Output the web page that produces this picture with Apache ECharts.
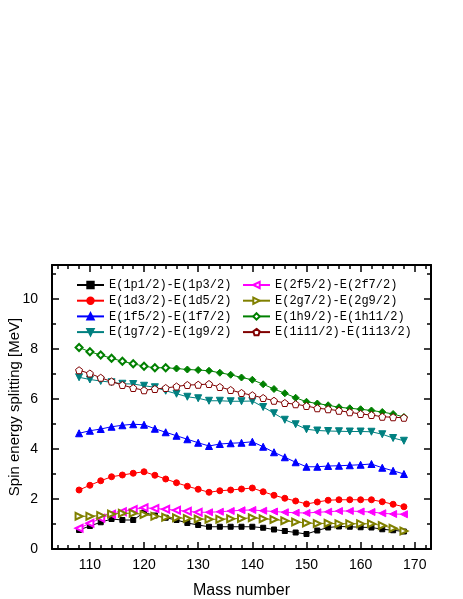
<!DOCTYPE html>
<html>
<head>
<meta charset="utf-8">
<script src="https://cdn.jsdelivr.net/npm/echarts@6/dist/echarts.min.js"></script>
<style>
  html, body { margin: 0; padding: 0; background: #fff; }
  #chart { width: 463px; height: 599px; }
</style>
</head>
<body>
<div id="chart"></div>
<script>
// mass numbers (x)
var massNumbers = [108, 110, 112, 114, 116, 118, 120, 122, 124, 126, 128, 130, 132, 134, 136, 138,
  140, 142, 144, 146, 148, 150, 152, 154, 156, 158, 160, 162, 164, 166, 168];

// spin-orbit splittings, MeV
var split1p = [0.76, 0.92, 1.07, 1.20, 1.16, 1.16, 1.46, 1.34, 1.25, 1.16, 1.04, 0.96, 0.89, 0.89, 0.89, 0.89,
  0.89, 0.85, 0.78, 0.72, 0.66, 0.60, 0.74, 0.86, 0.90, 0.89, 0.87, 0.86, 0.79, 0.75, 0.70];
var split1d = [2.36, 2.55, 2.73, 2.89, 2.96, 3.03, 3.09, 2.95, 2.80, 2.65, 2.51, 2.39, 2.27, 2.33, 2.36, 2.40,
  2.44, 2.29, 2.15, 2.03, 1.92, 1.80, 1.88, 1.95, 1.97, 1.97, 1.97, 1.97, 1.89, 1.79, 1.69];
var split1f = [4.63, 4.73, 4.80, 4.89, 4.95, 4.99, 4.97, 4.81, 4.67, 4.53, 4.39, 4.25, 4.12, 4.20, 4.23, 4.25,
  4.29, 4.09, 3.87, 3.67, 3.47, 3.29, 3.29, 3.32, 3.33, 3.35, 3.37, 3.40, 3.25, 3.13, 3.00];
var split1g = [6.87, 6.78, 6.72, 6.67, 6.61, 6.60, 6.53, 6.47, 6.33, 6.21, 6.09, 6.03, 5.93, 5.93, 5.91, 5.91,
  5.92, 5.68, 5.43, 5.17, 4.99, 4.79, 4.74, 4.72, 4.71, 4.70, 4.70, 4.69, 4.59, 4.44, 4.33];
var split2f = [0.83, 1.03, 1.23, 1.39, 1.49, 1.58, 1.65, 1.62, 1.59, 1.55, 1.51, 1.47, 1.47, 1.49, 1.52, 1.55,
  1.56, 1.53, 1.50, 1.47, 1.45, 1.44, 1.47, 1.49, 1.52, 1.52, 1.50, 1.48, 1.43, 1.40, 1.39];
var split2g = [1.31, 1.31, 1.34, 1.40, 1.43, 1.43, 1.38, 1.31, 1.27, 1.25, 1.22, 1.20, 1.19, 1.19, 1.21, 1.22,
  1.25, 1.21, 1.18, 1.13, 1.08, 1.04, 1.02, 1.03, 1.01, 1.01, 1.01, 1.01, 0.94, 0.83, 0.72];
var split1h = [8.06, 7.89, 7.76, 7.63, 7.51, 7.41, 7.31, 7.25, 7.25, 7.22, 7.18, 7.16, 7.13, 7.05, 6.97, 6.86,
  6.77, 6.59, 6.40, 6.23, 6.05, 5.89, 5.82, 5.75, 5.67, 5.63, 5.59, 5.54, 5.48, 5.40, 5.28];
var split1i = [7.15, 7.02, 6.85, 6.70, 6.56, 6.44, 6.35, 6.40, 6.44, 6.50, 6.56, 6.57, 6.60, 6.48, 6.36, 6.24,
  6.15, 6.04, 5.93, 5.84, 5.79, 5.72, 5.63, 5.59, 5.53, 5.47, 5.40, 5.36, 5.29, 5.27, 5.25];

var seriesNames = ['E(1p1/2)-E(1p3/2)', 'E(1d3/2)-E(1d5/2)', 'E(1f5/2)-E(1f7/2)', 'E(1g7/2)-E(1g9/2)',
  'E(2f5/2)-E(2f7/2)', 'E(2g7/2)-E(2g9/2)', 'E(1h9/2)-E(1h11/2)', 'E(1i11/2)-E(1i13/2)'];

// tick positions
var xMajorTicks = [110, 120, 130, 140, 150, 160, 170];
var xMinorTicks = [104, 106, 108, 112, 114, 116, 118, 122, 124, 126, 128, 132, 134, 136, 138,
  142, 144, 146, 148, 152, 154, 156, 158, 162, 164, 166, 168, 172];
var yMajorTicks = [0, 2, 4, 6, 8, 10];
var yMinorTicks = [1, 3, 5, 7, 9, 11];

var X_MIN = 103, X_MAX = 173, Y_MIN = 0, Y_MAX = 11.36;
var pentagon = 'path://M0,-1L0.951,-0.309L0.588,0.809L-0.588,0.809L-0.951,-0.309Z';

function pairs(ys, filledFrom, filledSymbol) {
  return massNumbers.map(function (a, i) {
    var item = { value: [a, ys[i]] };
    if (filledFrom != null && a >= filledFrom) item.symbol = filledSymbol;
    return item;
  });
}

function lineSeries(name, ys, color, symbol, size, rotate, filledFrom, filledSymbol) {
  return {
    name: name,
    type: 'line',
    data: pairs(ys, filledFrom, filledSymbol),
    symbol: symbol,
    symbolSize: size,
    symbolRotate: rotate || 0,
    showAllSymbol: true,
    lineStyle: { color: color, width: 1 },
    itemStyle: { color: color, borderColor: color, borderWidth: 1 },
    emphasis: { disabled: true },
    z: 3
  };
}

var axisColor = '#000';
function xAxisDef(position, ticks, len, withLine, withLabel) {
  return {
    type: 'value', position: position, min: X_MIN, max: X_MAX,
    axisLine: { show: withLine, onZero: false, lineStyle: { color: axisColor, width: 2 } },
    axisTick: { show: true, inside: true, length: len, customValues: ticks, lineStyle: { color: axisColor, width: 1.5 } },
    axisLabel: withLabel ? { show: true, customValues: ticks, margin: 9, color: '#000', fontSize: 14, fontFamily: 'Liberation Sans' } : { show: false },
    splitLine: { show: false }
  };
}
function yAxisDef(position, ticks, len, withLine, withLabel) {
  return {
    type: 'value', position: position, min: Y_MIN, max: Y_MAX,
    axisLine: { show: withLine, onZero: false, lineStyle: { color: axisColor, width: 2 } },
    axisTick: { show: true, inside: true, length: len, customValues: ticks, lineStyle: { color: axisColor, width: 1.5 } },
    axisLabel: withLabel ? { show: true, customValues: ticks, margin: 14, color: '#000', fontSize: 14, fontFamily: 'Liberation Sans' } : { show: false },
    splitLine: { show: false }
  };
}

var xMain = xAxisDef('bottom', xMajorTicks, 7, true, true);
xMain.name = 'Mass number';
xMain.nameLocation = 'middle';
xMain.nameGap = 34;
xMain.nameMoveOverlap = false;
xMain.nameTextStyle = { fontSize: 16, fontFamily: 'Liberation Sans', color: '#000' };

var yMain = yAxisDef('left', yMajorTicks, 7, true, true);
yMain.name = 'Spin energy splitting [MeV]';
yMain.nameLocation = 'middle';
yMain.nameGap = 30;
yMain.nameMoveOverlap = false;
yMain.nameTextStyle = { fontSize: 15, fontFamily: 'Liberation Sans', color: '#000' };

var legendText = { fontFamily: 'Liberation Mono', fontSize: 12, color: '#000' };

var option = {
  animation: false,
  backgroundColor: '#fff',
  grid: { left: 52, right: 32, top: 265, bottom: 50, containLabel: false, outerBoundsMode: 'none' },
  xAxis: [
    xMain,
    xAxisDef('bottom', xMinorTicks, 4, false, false),
    xAxisDef('top', xMajorTicks, 7, true, false),
    xAxisDef('top', xMinorTicks, 4, false, false)
  ],
  yAxis: [
    yMain,
    yAxisDef('left', yMinorTicks, 4, false, false),
    yAxisDef('right', yMajorTicks, 7, true, false),
    yAxisDef('right', yMinorTicks, 4, false, false)
  ],
  legend: [
    {
      data: seriesNames.slice(0, 4), orient: 'vertical', left: 76, top: 279, padding: 0,
      itemWidth: 27, itemHeight: 8, itemGap: 3.7, textStyle: legendText, selectedMode: false
    },
    {
      data: seriesNames.slice(4), orient: 'vertical', left: 242, top: 279, padding: 0,
      itemWidth: 27, itemHeight: 8, itemGap: 3.7, textStyle: legendText, selectedMode: false
    }
  ],
  series: [
    lineSeries(seriesNames[0], split1p, '#000000', 'rect', 5, 0),
    lineSeries(seriesNames[1], split1d, '#ff0000', 'circle', 6, 0),
    lineSeries(seriesNames[2], split1f, '#0000ff', 'triangle', 7, 0),
    lineSeries(seriesNames[3], split1g, '#008080', 'triangle', 7, 180),
    lineSeries(seriesNames[4], split2f, '#ff00ff', 'emptyTriangle', 7, 90, 132, 'triangle'),
    lineSeries(seriesNames[5], split2g, '#808000', 'emptyTriangle', 7, -90),
    lineSeries(seriesNames[6], split1h, '#008000', 'emptyDiamond', 7, 0, 126, 'diamond'),
    lineSeries(seriesNames[7], split1i, '#800000', pentagon, 7, 0)
  ]
};

// hollow pentagon for 1i series
option.series[7].itemStyle.color = '#ffffff';

var chart = echarts.init(document.getElementById('chart'));
chart.setOption(option);
</script>
</body>
</html>
